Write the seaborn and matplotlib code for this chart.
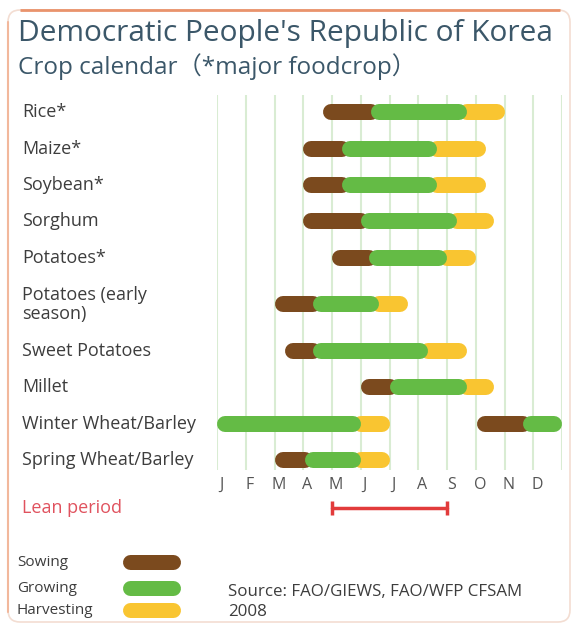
import numpy as np
import seaborn as sns
import matplotlib.pyplot as plt
import matplotlib.transforms as mtransforms
from matplotlib.patches import FancyBboxPatch

# Crop calendar data (months: 0 = start of January, 12 = end of December)
crops = ['Rice*', 'Maize*', 'Soybean*', 'Sorghum', 'Potatoes*',
         'Potatoes (early\nseason)', 'Sweet Potatoes', 'Millet',
         'Winter Wheat/Barley', 'Spring Wheat/Barley']
sowing = [[(3.7, 5.35)], [(3.0, 4.35)], [(3.0, 4.35)], [(3.0, 5.0)], [(4.0, 5.3)],
          [(2.0, 3.35)], [(2.35, 3.35)], [(5.0, 6.0)], [(9.05, 10.65)], [(2.0, 3.05)]]
growing = [[(5.35, 8.7)], [(4.35, 7.65)], [(4.35, 7.65)], [(5.0, 8.35)], [(5.3, 8.0)],
           [(3.35, 5.65)], [(3.35, 7.35)], [(6.0, 8.7)], [(0.0, 5.0), (10.65, 12.0)],
           [(3.05, 5.0)]]
harvesting = [[(8.7, 10.0)], [(7.65, 9.35)], [(7.65, 9.35)], [(8.35, 9.65)], [(8.0, 9.0)],
              [(5.65, 6.65)], [(7.35, 8.7)], [(8.7, 9.65)], [(5.0, 6.0)], [(5.0, 6.0)]]
months = ['J', 'F', 'M', 'A', 'M', 'J', 'J', 'A', 'S', 'O', 'N', 'D']
lean_period = [4.0, 8.0]

phase_names = ['Sowing', 'Growing', 'Harvesting']
phase_colors = ['#7b4a1e', '#64bb45', '#f9c531']

sns.set_theme(style='white')
plt.rcParams['font.family'] = ['Open Sans', 'Noto Sans CJK JP', 'DejaVu Sans']

W, H = 576, 626
fig = plt.figure(figsize=(W / 100, H / 100), dpi=100)

# background axes in pixel coordinates for titles, frame and legend
bg = fig.add_axes([0, 0, 1, 1], zorder=0)
bg.set_xlim(0, W)
bg.set_ylim(H, 0)
bg.axis('off')

frame = FancyBboxPatch((8, 10), 562, 612, boxstyle='round,pad=0,rounding_size=12',
                       fc='white', ec='#f3ddd2', lw=1.2)
bg.add_patch(frame)
bg.plot([20, 560], [10, 10], color='#e9936c', lw=2, solid_capstyle='butt')
bg.plot([8, 8], [22, 612], color='#f2b89c', lw=1.5)

title_color = '#3b5769'
bg.text(18, 34, "Democratic People's Republic of Korea", fontsize=21.5,
        color=title_color, va='center', ha='left')
bg.text(18, 67, 'Crop calendar（*major foodcrop）', fontsize=17.5,
        color=title_color, va='center', ha='left')

# main calendar axes
ax = fig.add_axes([217 / W, 1 - 470 / H, 345 / W, 375 / H], zorder=1)
ax.patch.set_alpha(0)

ypos = []
y = 0.0
for i, c in enumerate(crops):
    if i > 0:
        y += 1 + 0.28 * (('\n' in crops[i - 1]) or ('\n' in c))
    ypos.append(y)

ax.set_xlim(0, 12)
ax.set_ylim(ypos[-1] + 0.27, -0.47)
ax.vlines(range(13), -0.47, ypos[-1] + 0.27, color='#d9ecd3', lw=1.5, zorder=0)

lw_px = 16
r = lw_px / 2 / (345 / 12)  # cap radius in months

def draw_phase(segments, color, extend_right, extend_left, z):
    ys, x0s, x1s = [], [], []
    for yy, segs in zip(ypos, segments):
        for a, b in segs:
            x0 = a if extend_left else a + r
            x1 = b if extend_right else b - r
            ys.append(yy)
            x0s.append(x0)
            x1s.append(x1)
    ax.hlines(ys, x0s, x1s, colors=color, linewidth=lw_px * 0.72,
              capstyle='round', zorder=z, clip_on=False)

draw_phase(sowing, phase_colors[0], True, False, 2)
draw_phase(harvesting, phase_colors[2], False, True, 2)
draw_phase(growing, phase_colors[1], False, False, 3)

label_tr = mtransforms.blended_transform_factory(fig.transFigure, ax.transData)
for c, yy in zip(crops, ypos):
    ax.text(22 / W, yy, c, transform=label_tr, fontsize=13, color='#3d3d3d',
            va='center', ha='left', linespacing=1.12)

ax.set_xticks(np.arange(12) + 0.14, months)
ax.set_yticks([])
ax.tick_params(axis='x', length=0, labelsize=11.5, labelcolor='#555555', pad=5)
sns.despine(ax=ax, left=True, bottom=True)

# lean period bar
lean_y = ypos[-1] + (508 - 460) / 36.4
ax.plot(lean_period, [lean_y, lean_y], color='#e23b3b', lw=2.5, marker='|',
        ms=10, mew=2.5, clip_on=False)
bg.text(22, 508, 'Lean period', fontsize=13, color='#e0525e', va='center', ha='left')

# legend
leg_y = [562, 588, 610]
for name, col, ly in zip(phase_names, phase_colors, leg_y):
    bg.text(17, ly, name, fontsize=11, color='#3d3d3d', va='center', ha='left')
bg.hlines(leg_y, 122 + 7.5, 180 - 7.5, colors=phase_colors, linewidth=15 * 0.72,
          capstyle='round')

bg.text(228, 602, 'Source: FAO/GIEWS, FAO/WFP CFSAM\n2008', fontsize=12.2,
        color='#3d3d3d', va='center', ha='left', linespacing=1.25)

fig.savefig('out.png', dpi=100)
